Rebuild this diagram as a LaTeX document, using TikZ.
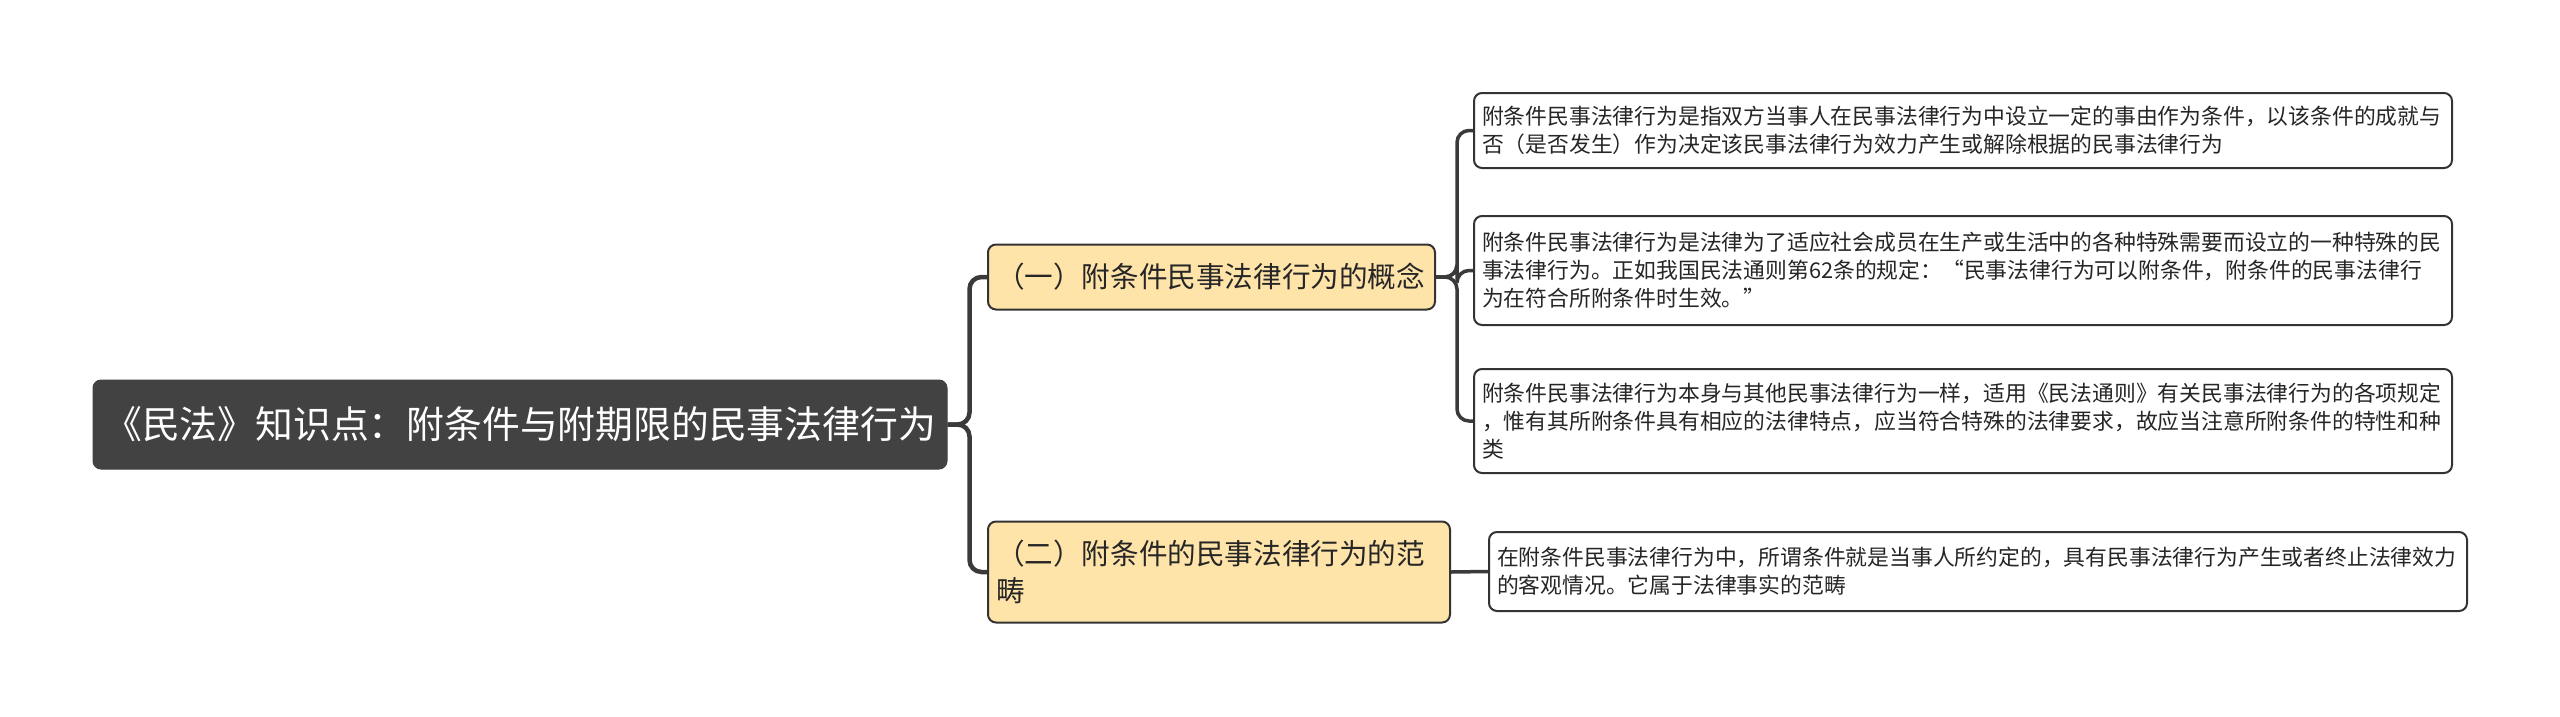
\documentclass[tikz,border=0pt]{standalone}
\usepackage{fontspec}
\setmainfont{Noto Sans CJK SC}
\definecolor{rootfill}{HTML}{424242}
\definecolor{branchfill}{HTML}{FFE4AA}
\definecolor{edge}{HTML}{333333}
\definecolor{conncol}{HTML}{3A3A3A}
\begin{document}
\begin{tikzpicture}[x=1pt,y=-1pt,
  rootbox/.style={draw=rootfill,fill=rootfill,rounded corners=8pt,text=white,
    font=\fontsize{37.8}{44}\selectfont,minimum width=854pt,minimum height=89pt,
    inner xsep=0pt,inner ysep=0pt,align=center,line width=1pt},
  branchbox/.style={draw=edge,fill=branchfill,rounded corners=8pt,text=black!85,
    font=\fontsize{28.6}{37}\selectfont,align=left,inner xsep=0pt,inner ysep=0pt,
    line width=2pt},
  leafbox/.style={draw=edge,fill=white,rounded corners=8pt,text=black!85,
    font=\fontsize{21.8}{28}\selectfont,align=left,inner xsep=0pt,inner ysep=0pt,
    line width=2pt},
  mainconn/.style={draw=conncol,line width=4.5pt,rounded corners=12pt},
  leafconn/.style={draw=conncol,line width=3.5pt,rounded corners=12pt}]
\useasboundingbox (0,0) rectangle (2560,716);
\fill[white] (0,0) rectangle (2560,716);

\node[rootbox] (root) at (520,424.5) {《民法》知识点：附条件与附期限的民事法律行为};

\node[branchbox,minimum width=447pt,minimum height=65pt,text width=431pt] (b1) at (1211.5,277)
  {（一）附条件民事法律行为的概念};
\node[branchbox,minimum width=462pt,minimum height=101pt,text width=446pt] (b2) at (1219,572)
  {（二）附条件的民事法律行为的范\\畴};

\node[leafbox,minimum width=978pt,minimum height=75pt,text width=962pt] (l1) at (1963,130.5)
  {附条件民事法律行为是指双方当事人在民事法律行为中设立一定的事由作为条件，以该条件的成就与\\否（是否发生）作为决定该民事法律行为效力产生或解除根据的民事法律行为};
\node[leafbox,minimum width=978pt,minimum height=109pt,text width=962pt] (l2) at (1963,270.5)
  {附条件民事法律行为是法律为了适应社会成员在生产或生活中的各种特殊需要而设立的一种特殊的民\\事法律行为。正如我国民法通则第62条的规定：“民事法律行为可以附条件，附条件的民事法律行\\为在符合所附条件时生效。”};
\node[leafbox,minimum width=978pt,minimum height=104pt,text width=962pt] (l3) at (1963,421)
  {附条件民事法律行为本身与其他民事法律行为一样，适用《民法通则》有关民事法律行为的各项规定\\，惟有其所附条件具有相应的法律特点，应当符合特殊的法律要求，故应当注意所附条件的特性和种\\类};
\node[leafbox,minimum width=978pt,minimum height=79pt,text width=962pt] (l4) at (1978,571.5)
  {在附条件民事法律行为中，所谓条件就是当事人所约定的，具有民事法律行为产生或者终止法律效力\\的客观情况。它属于法律事实的范畴};

\draw[mainconn] (root.east) -- ++(22,0) |- (b1.west);
\draw[mainconn] (root.east) -- ++(22,0) |- (b2.west);
\draw[leafconn] (b1.east) -- ++(21,0) |- (l1.west);
\draw[leafconn] (b1.east) -- ++(21,0) |- (l2.west);
\draw[leafconn] (b1.east) -- ++(21,0) |- (l3.west);
\draw[leafconn] (b2.east) -- (l4.west);
\end{tikzpicture}
\end{document}
